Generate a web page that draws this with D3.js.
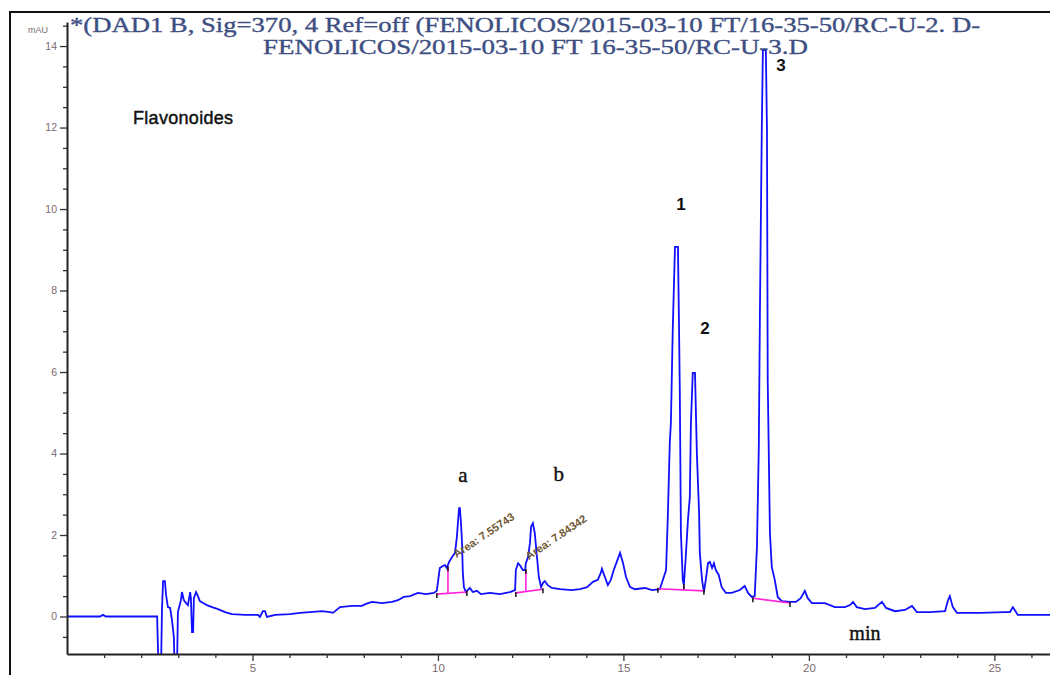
<!DOCTYPE html>
<html>
<head>
<meta charset="utf-8">
<script src="https://cdn.jsdelivr.net/npm/d3@7"></script>
<style>
  html, body { margin: 0; padding: 0; background: #fff; }
  svg { display: block; }
</style>
</head>
<body>
<svg id="chart" width="1050" height="675"></svg>
<script>
// Retention time (min) and detector signal (mAU) of the DAD1 B trace at 370 nm
const retentionTime = [
  0.00, 0.89, 0.97, 1.05, 2.43, 2.44, 2.48, 2.53, 2.56, 2.59, 2.64, 2.67, 2.72, 2.78, 2.83, 2.88,
  2.91, 2.96, 2.99, 3.07, 3.10, 3.15, 3.21, 3.26, 3.32, 3.34, 3.37, 3.40, 3.42, 3.48, 3.53, 3.58,
  3.67, 3.77, 3.91, 4.07, 4.26, 4.45, 4.80, 5.15, 5.20, 5.28, 5.34, 5.39, 5.61, 6.01, 6.28, 6.55,
  6.87, 7.09, 7.17, 7.36, 7.68, 7.95, 8.06, 8.22, 8.49, 8.76, 8.92, 9.08, 9.25, 9.46, 9.68, 9.89,
  9.97, 10.05, 10.13, 10.19, 10.24, 10.30, 10.38, 10.46, 10.51, 10.54, 10.57, 10.59, 10.62, 10.65, 10.67, 10.70,
  10.75, 10.86, 10.94, 11.05, 11.16, 11.40, 11.67, 11.94, 12.08, 12.10, 12.16, 12.21, 12.29, 12.35, 12.37, 12.43,
  12.48, 12.51, 12.56, 12.61, 12.67, 12.72, 12.78, 12.83, 12.88, 12.96, 13.07, 13.29, 13.61, 13.83, 14.02, 14.18,
  14.31, 14.39, 14.42, 14.50, 14.58, 14.66, 14.74, 14.82, 14.91, 14.99, 15.07, 15.18, 15.31, 15.58, 15.77, 15.98,
  16.15, 16.20, 16.25, 16.28, 16.33, 16.39, 16.47, 16.50, 16.52, 16.55, 16.60, 16.63, 16.68, 16.74, 16.79, 16.82,
  16.87, 16.93, 16.98, 17.04, 17.06, 17.12, 17.17, 17.22, 17.28, 17.33, 17.39, 17.44, 17.49, 17.57, 17.65, 17.76,
  17.92, 18.14, 18.27, 18.36, 18.46, 18.54, 18.60, 18.65, 18.68, 18.73, 18.76, 18.84, 18.87, 18.89, 18.95, 19.00,
  19.08, 19.16, 19.27, 19.49, 19.65, 19.78, 19.89, 19.97, 20.08, 20.43, 20.70, 20.97, 21.11, 21.19, 21.29, 21.51,
  21.78, 21.97, 22.08, 22.32, 22.59, 22.78, 22.91, 23.26, 23.67, 23.75, 23.80, 23.88, 23.99, 24.61, 25.28, 25.42,
  25.50, 25.63, 26.50
];
const absorbance = [
  0.00, 0.00, 0.04, 0.00, 0.00, -0.38, -1.60, -1.60, 0.16, 0.87, 0.87, 0.53, 0.23, 0.21, -0.09, -0.50,
  -1.60, -1.60, 0.11, 0.40, 0.60, 0.40, 0.33, 0.28, 0.60, 0.45, -0.38, -0.38, 0.45, 0.60, 0.50, 0.38,
  0.33, 0.28, 0.23, 0.18, 0.11, 0.06, 0.04, 0.04, -0.01, 0.13, 0.13, -0.01, 0.04, 0.06, 0.09, 0.11,
  0.13, 0.11, 0.09, 0.23, 0.26, 0.26, 0.31, 0.36, 0.33, 0.36, 0.40, 0.48, 0.50, 0.58, 0.55, 0.58,
  0.63, 1.19, 1.24, 1.26, 1.19, 1.34, 1.46, 1.56, 1.95, 2.32, 2.66, 2.66, 2.32, 1.80, 1.09, 0.72,
  0.60, 0.70, 0.60, 0.63, 0.55, 0.58, 0.55, 0.60, 0.65, 1.14, 1.31, 1.26, 1.14, 1.14, 1.31, 1.46,
  1.80, 2.20, 2.29, 2.05, 1.46, 0.97, 0.72, 0.82, 0.87, 0.77, 0.70, 0.67, 0.65, 0.67, 0.72, 0.85,
  0.90, 1.07, 1.17, 0.97, 0.77, 0.90, 1.14, 1.34, 1.56, 1.31, 0.97, 0.72, 0.67, 0.70, 0.65, 0.67,
  1.14, 2.54, 4.26, 4.75, 7.03, 9.07, 9.07, 7.03, 5.56, 2.05, 0.90, 0.77, 1.46, 2.37, 2.93, 4.75,
  5.98, 5.98, 4.01, 2.54, 1.56, 0.90, 0.60, 0.90, 1.31, 1.34, 1.19, 1.31, 1.14, 1.02, 0.72, 0.58,
  0.58, 0.65, 0.75, 0.58, 0.48, 0.50, 1.71, 4.16, 7.45, 11.94, 13.90, 13.90, 11.94, 5.80, 2.05, 1.21,
  0.90, 0.48, 0.38, 0.36, 0.36, 0.45, 0.63, 0.45, 0.33, 0.33, 0.23, 0.23, 0.28, 0.36, 0.23, 0.18,
  0.21, 0.36, 0.21, 0.13, 0.16, 0.26, 0.11, 0.11, 0.13, 0.40, 0.50, 0.23, 0.09, 0.09, 0.11, 0.11,
  0.23, 0.04, 0.04
];

// Integration baselines: start time, start signal, end time, end signal
const baselineStart = [[9.97, 0.55], [12.10, 0.58], [15.93, 0.68], [18.49, 0.45]];
const baselineEnd   = [[10.78, 0.60], [12.83, 0.67], [17.17, 0.63], [19.49, 0.33]];
// Perpendicular drops between co-eluting peaks: time, baseline signal, curve signal
const dropLines = [[10.27, 0.56, 1.21], [12.37, 0.61, 1.14], [16.63, 0.66, 0.77]];

// Peak identifiers and area reports
const peakNames = ["a", "b", "1", "2", "3"];
const areaLabels = ["Area: 7.55743", "Area: 7.84342"];

// Axis ticks
const yMajorTicks = [0, 2, 4, 6, 8, 10, 12, 14];
const xMajorTicks = [5, 10, 15, 20, 25];

const titleLines = [
  "*(DAD1 B, Sig=370, 4 Ref=off (FENOLICOS/2015-03-10 FT/16-35-50/RC-U-2. D-",
  "FENOLICOS/2015-03-10 FT 16-35-50/RC-U-3.D"
];

const svg = d3.select("#chart");
const W = 1050, H = 675;
const plotLeft = 67, plotRight = 1050, plotTop = 22, plotBottom = 654;

const x = d3.scaleLinear().domain([0, 26.5]).range([plotLeft, plotRight]);
const y = d3.scaleLinear().domain([-0.92, 14.59]).range([plotBottom, plotTop]);

svg.append("rect").attr("width", W).attr("height", H).attr("fill", "#fff");

// outer frame
svg.append("path")
  .attr("d", `M10,${H} L10,12 L${W},12`)
  .attr("fill", "none").attr("stroke", "#111").attr("stroke-width", 2);

svg.append("defs").append("clipPath").attr("id", "plotClip")
  .append("rect").attr("x", plotLeft).attr("y", plotTop - 10)
  .attr("width", plotRight - plotLeft).attr("height", plotBottom - plotTop + 10);

const plot = svg.append("g").attr("clip-path", "url(#plotClip)");

const points = retentionTime.map((t, i) => [t, absorbance[i]]);
const line = d3.line().x(d => x(d[0])).y(d => y(d[1]));

plot.append("path")
  .datum(points)
  .attr("d", line)
  .attr("fill", "none")
  .attr("stroke", "#1010ff")
  .attr("stroke-width", 1.8)
  .attr("stroke-linejoin", "miter");

// integration baselines
const magenta = "#ff22dd";
baselineStart.forEach((s, i) => {
  const e = baselineEnd[i];
  plot.append("line")
    .attr("x1", x(s[0])).attr("y1", y(s[1]))
    .attr("x2", x(e[0])).attr("y2", y(e[1]))
    .attr("stroke", magenta).attr("stroke-width", 1.6);
});
dropLines.forEach(d => {
  plot.append("line")
    .attr("x1", x(d[0])).attr("y1", y(d[1]))
    .attr("x2", x(d[0])).attr("y2", y(d[2]))
    .attr("stroke", magenta).attr("stroke-width", 1.6);
});

// peak start / end event marks
const eventMarks = baselineStart.concat(baselineEnd)
  .concat(dropLines.map(d => [d[0], d[2]]));
plot.selectAll(".evt").data(eventMarks).join("line")
  .attr("class", "evt")
  .attr("x1", d => x(d[0])).attr("x2", d => x(d[0]))
  .attr("y1", d => y(d[1]) - 1).attr("y2", d => y(d[1]) + 4)
  .attr("stroke", "#111").attr("stroke-width", 1.5);

// axes
const tickColor = "#7a6a72";
const yAxis = svg.append("g").attr("transform", `translate(${plotLeft},0)`)
  .call(d3.axisLeft(y).tickValues(yMajorTicks).tickSize(7).tickSizeOuter(0).tickPadding(3));
const yMinor = svg.append("g").attr("transform", `translate(${plotLeft},0)`)
  .call(d3.axisLeft(y).tickValues(d3.range(-0.5, 14.6, 0.5).filter(v => v % 2 !== 0))
    .tickSize(4).tickSizeOuter(0).tickFormat(""));
yMinor.select(".domain").remove();

const xAxis = svg.append("g").attr("transform", `translate(0,${plotBottom})`)
  .call(d3.axisBottom(x).tickValues(xMajorTicks).tickSize(7).tickSizeOuter(0).tickPadding(3));
const xMinor = svg.append("g").attr("transform", `translate(0,${plotBottom})`)
  .call(d3.axisBottom(x).tickValues(d3.range(1, 27).filter(v => v % 5 !== 0))
    .tickSize(4).tickSizeOuter(0).tickFormat(""));
xMinor.select(".domain").remove();

[yAxis, xAxis, yMinor, xMinor].forEach(g => {
  g.selectAll(".domain").attr("stroke", "#222").attr("stroke-width", 2);
  g.selectAll(".tick line").attr("stroke", "#333").attr("stroke-width", 1.3);
  g.selectAll(".tick text")
    .attr("fill", tickColor)
    .style("font-family", "'Liberation Sans', Arial, sans-serif")
    .style("font-size", "10.5px");
});
xAxis.selectAll(".tick text").style("font-size", "11.5px");

// unit label
svg.append("text").attr("x", 28).attr("y", 33)
  .attr("fill", tickColor)
  .style("font-family", "'Liberation Sans', Arial, sans-serif")
  .style("font-size", "9px")
  .text("mAU");

// title
const titleFont = "'Liberation Serif', 'Times New Roman', serif";
const titleColor = "#3d4e82";
svg.append("text").attr("x", 70).attr("y", 32)
  .attr("fill", titleColor).attr("stroke", titleColor).attr("stroke-width", 0.35)
  .attr("textLength", 910).attr("lengthAdjust", "spacingAndGlyphs")
  .style("font-family", titleFont).style("font-size", "21px")
  .text(titleLines[0]);
svg.append("text").attr("x", 263).attr("y", 54)
  .attr("fill", titleColor).attr("stroke", titleColor).attr("stroke-width", 0.35)
  .attr("textLength", 545).attr("lengthAdjust", "spacingAndGlyphs")
  .style("font-family", titleFont).style("font-size", "21px")
  .text(titleLines[1]);

// sample group
svg.append("text").attr("x", x(1.78)).attr("y", y(12.09))
  .attr("fill", "#111").attr("stroke", "#111").attr("stroke-width", 0.45)
  .style("font-family", "'Liberation Sans', Arial, sans-serif")
  .style("font-size", "18px").style("letter-spacing", "0.3px")
  .text("Flavonoides");

// peak labels
const peakPos = [[10.67, 3.30], [13.26, 3.33], [16.55, 9.98], [17.20, 6.93], [19.25, 13.38]];
peakNames.forEach((name, i) => {
  const serif = i < 2;
  svg.append("text")
    .attr("x", x(peakPos[i][0])).attr("y", y(peakPos[i][1]))
    .attr("text-anchor", "middle")
    .attr("fill", "#111")
    .attr("stroke", serif ? "#111" : "none").attr("stroke-width", 0.4)
    .style("font-family", serif ? titleFont : "'Liberation Sans', Arial, sans-serif")
    .style("font-size", serif ? "21px" : "17px")
    .style("font-weight", serif ? "normal" : "bold")
    .text(name);
});

// area reports
const areaPos = [[10.50, 1.43], [12.45, 1.38]];
areaLabels.forEach((txt, i) => {
  const px = x(areaPos[i][0]), py = y(areaPos[i][1]);
  svg.append("text")
    .attr("transform", `translate(${px},${py}) rotate(-34)`)
    .attr("fill", "#6e5732")
    .style("font-family", "'Liberation Sans', Arial, sans-serif")
    .style("font-size", "11px").style("font-weight", "bold")
    .text(txt);
});

// time axis unit
svg.append("text").attr("x", x(21.51)).attr("y", y(-0.58))
  .attr("text-anchor", "middle")
  .attr("fill", "#111").attr("stroke", "#111").attr("stroke-width", 0.4)
  .style("font-family", titleFont).style("font-size", "20px")
  .text("min");
</script>
</body>
</html>
